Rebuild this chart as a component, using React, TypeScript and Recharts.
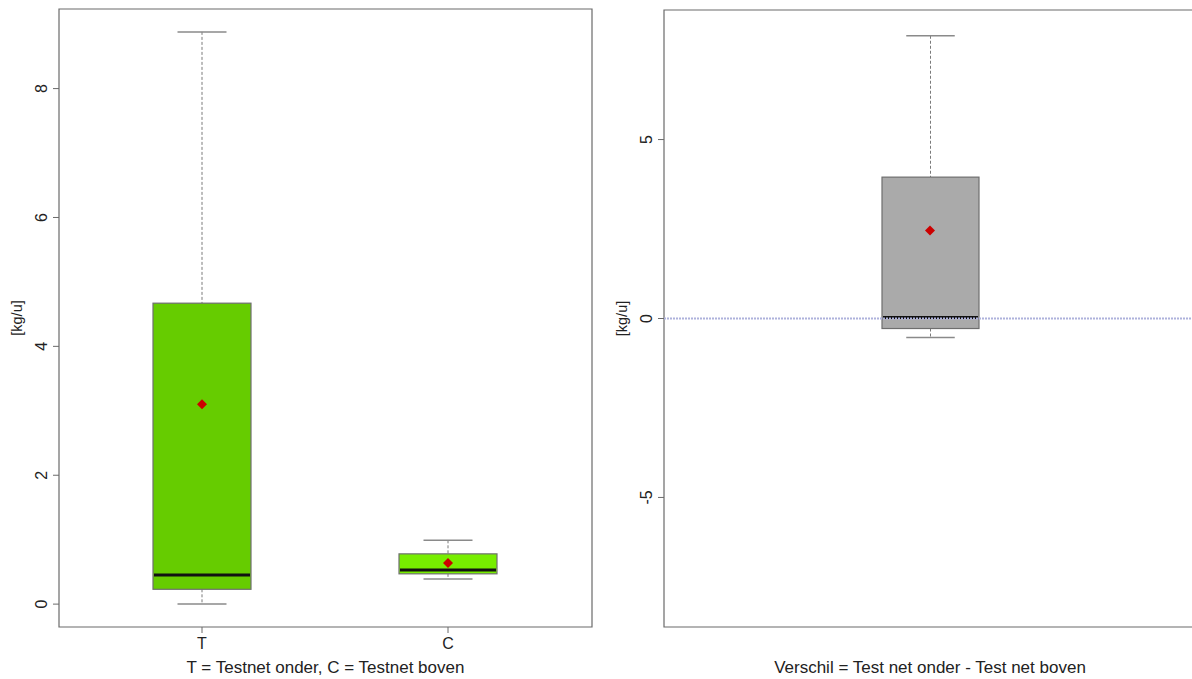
import React from 'react';
import {
  Bar,
  ComposedChart,
  ReferenceArea,
  ReferenceLine,
  Scatter,
  XAxis,
  YAxis,
} from 'recharts';

// links: Testnet onder (T) en Testnet boven (C)
const groupLabels = ['T', 'C'];
const whiskerLow = [0, 0.39];
const quartile1 = [0.23, 0.47];
const medians = [0.45, 0.53];
const quartile3 = [4.67, 0.78];
const whiskerHigh = [8.88, 0.99];
const means = [3.1, 0.64];
const groupColors = ['#66cc00', '#77ee00'];
const leftTicks = [0, 2, 4, 6, 8];
const leftDomain: [number, number] = [-0.355, 9.235];

// rechts: verschil
const diffLabels = ['Verschil'];
const diffLow = [-0.53];
const diffQ1 = [-0.28];
const diffMedian = [0.03];
const diffQ3 = [3.95];
const diffHigh = [7.9];
const diffMean = [2.46];
const rightTicks = [-5, 0, 5];
const rightDomain: [number, number] = [-8.62, 8.62];

const FONT = '"Liberation Sans", Arial, sans-serif';
const FRAME = '#6a6a6a';

const leftData = groupLabels.map((name, i) => ({
  name,
  box: [quartile1[i], quartile3[i]],
  low: whiskerLow[i],
  med: medians[i],
  high: whiskerHigh[i],
  mean: means[i],
  fill: groupColors[i],
}));

const rightData = diffLabels.map((name, i) => ({
  name,
  box: [diffQ1[i], diffQ3[i]],
  low: diffLow[i],
  med: diffMedian[i],
  high: diffHigh[i],
  mean: diffMean[i],
  fill: '#aaaaaa',
}));

// doos + snorren, pixels afgeleid van de balk zelf
const BoxShape = (props: any) => {
  const { x, y, width, height, payload } = props;
  const [lo, hi] = payload.box;
  const top = Math.min(y, y + height);
  const h = Math.abs(height);
  const perUnit = h / (hi - lo);
  const toY = (v: number) => top + (hi - v) * perUnit;
  const cx = x + width / 2;
  const cap = width / 4;
  return (
    <g>
      <line x1={cx} x2={cx} y1={toY(payload.high)} y2={top} stroke="#7a7a7a" strokeDasharray="3 2" />
      <line x1={cx} x2={cx} y1={top + h} y2={toY(payload.low)} stroke="#7a7a7a" strokeDasharray="3 2" />
      <line x1={cx - cap} x2={cx + cap} y1={toY(payload.high)} y2={toY(payload.high)} stroke="#8a8a8a" strokeWidth={1.5} />
      <line x1={cx - cap} x2={cx + cap} y1={toY(payload.low)} y2={toY(payload.low)} stroke="#8a8a8a" strokeWidth={1.5} />
      <rect x={x} y={top} width={width} height={h} fill={payload.fill} stroke="#6e6e6e" strokeWidth={1.2} />
      <line x1={x + 1} x2={x + width - 1} y1={toY(payload.med)} y2={toY(payload.med)} stroke="#111" strokeWidth={3} />
    </g>
  );
};

const Diamond = (props: any) => {
  const { cx, cy } = props;
  const r = 5;
  return <polygon points={`${cx},${cy - r} ${cx + r},${cy} ${cx},${cy + r} ${cx - r},${cy}`} fill="#cc0000" />;
};

const YTick = (props: any) => {
  const { x, y, payload } = props;
  const bx = x - 4;
  return (
    <text x={bx} y={y} transform={`rotate(-90 ${bx} ${y})`} textAnchor="middle" fontSize={16} fontFamily={FONT} fill="#222">
      {payload.value}
    </text>
  );
};

const XTick = (props: any) => {
  const { x, y, payload } = props;
  return (
    <text x={x} y={y + 14} textAnchor="middle" fontSize={16} fontFamily={FONT} fill="#222">
      {payload.value}
    </text>
  );
};

const yTitle = (viewBox: any) => {
  const tx = viewBox.x + viewBox.width - 37;
  const ty = viewBox.y + viewBox.height / 2;
  return (
    <text x={tx} y={ty} transform={`rotate(-90 ${tx} ${ty})`} textAnchor="middle" fontSize={14.5} fontFamily={FONT} fill="#222">
      [kg/u]
    </text>
  );
};

const xTitle = (text: string) => (viewBox: any) => (
  <text x={viewBox.x + viewBox.width / 2} y={673} textAnchor="middle" fontSize={17} fontFamily={FONT} fill="#222">
    {text}
  </text>
);

const App: React.FC = () => {
  return (
    <div style={{ position: 'absolute', left: 0, top: 0, width: 1192, height: 679, overflow: 'hidden', background: '#fff' }}>
      <div style={{ position: 'absolute', left: 0, top: 0 }}>
        <ComposedChart width={600} height={679} data={leftData} margin={{ top: 9, right: 8, bottom: 12, left: 9 }}>
          <XAxis
            dataKey="name"
            height={40}
            padding={{ left: 20, right: 21 }}
            axisLine={false}
            tickSize={6}
            tickLine={{ stroke: FRAME }}
            tick={<XTick />}
            label={{ content: (p: any) => xTitle('T = Testnet onder, C = Testnet boven')(p.viewBox) }}
          />
          <XAxis xAxisId="frame" dataKey="name" hide />
          <YAxis
            width={50}
            type="number"
            domain={leftDomain}
            ticks={leftTicks}
            allowDataOverflow
            axisLine={false}
            tickSize={6}
            tickLine={{ stroke: FRAME }}
            tick={<YTick />}
            label={{ content: (p: any) => yTitle(p.viewBox) }}
          />
          <ReferenceArea xAxisId="frame" y1={leftDomain[0]} y2={leftDomain[1]} fill="none" stroke={FRAME} strokeWidth={1.2} />
          <Bar dataKey="box" barSize={98} shape={<BoxShape />} isAnimationActive={false} />
          <Scatter dataKey="mean" shape={<Diamond />} isAnimationActive={false} />
        </ComposedChart>
      </div>
      <div style={{ position: 'absolute', left: 600, top: 0 }}>
        <ComposedChart width={600} height={679} data={rightData} margin={{ top: 10, right: 4, bottom: 12, left: 9 }}>
          <XAxis
            dataKey="name"
            height={40}
            axisLine={false}
            tickLine={false}
            tick={false}
            label={{ content: (p: any) => xTitle('Verschil = Test net onder - Test net boven')(p.viewBox) }}
          />
          <YAxis
            width={55}
            type="number"
            domain={rightDomain}
            ticks={rightTicks}
            allowDataOverflow
            axisLine={false}
            tickSize={6}
            tickLine={{ stroke: FRAME }}
            tick={<YTick />}
            label={{ content: (p: any) => yTitle(p.viewBox) }}
          />
          <ReferenceArea y1={rightDomain[0]} y2={rightDomain[1]} fill="none" stroke={FRAME} strokeWidth={1.2} />
          <Bar dataKey="box" barSize={97} shape={<BoxShape />} isAnimationActive={false} />
          <ReferenceLine y={0} stroke="#aeb2dc" strokeWidth={1.8} strokeDasharray="2 1" />
          <Scatter dataKey="mean" shape={<Diamond />} isAnimationActive={false} />
        </ComposedChart>
      </div>
    </div>
  );
};

export default App;
